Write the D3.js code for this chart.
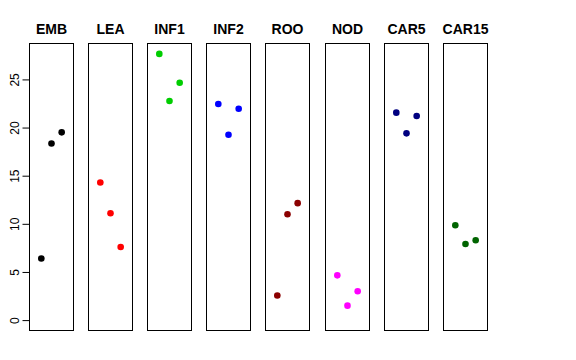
<!DOCTYPE html>
<html>
<head>
<meta charset="utf-8">
<script src="https://cdn.jsdelivr.net/npm/d3@7"></script>
<style>
body { margin: 0; background: #fff; }
text { font-family: "Liberation Sans", Arial, sans-serif; }
</style>
</head>
<body>
<svg id="chart"></svg>
<script>
// groups and their three values (x = 1, 2, 3)
var groups = ["EMB", "LEA", "INF1", "INF2", "ROO", "NOD", "CAR5", "CAR15"];
var colors = ["#000000", "#FF0000", "#00CD00", "#0000FF", "#8B0000", "#FF00FF", "#000080", "#006400"];
var embVals = [6.4, 18.35, 19.5];
var leaVals = [14.3, 11.1, 7.6];
var inf1Vals = [27.65, 22.75, 24.65];
var inf2Vals = [22.45, 19.25, 21.95];
var rooVals = [2.55, 11.0, 12.15];
var nodVals = [4.65, 1.5, 3.0];
var car5Vals = [21.55, 19.4, 21.2];
var car15Vals = [9.85, 7.9, 8.3];
var yTicks = [0, 5, 10, 15, 20, 25];

var allVals = [embVals, leaVals, inf1Vals, inf2Vals, rooVals, nodVals, car5Vals, car15Vals];

var screen = {width: 576, height: 360};
var panel = {left: 29, width: 44, step: 59.2, top: 43.5, bottom: 330.5};

var svg = d3.select("#chart")
    .attr("width", screen.width)
    .attr("height", screen.height);

var yScale = d3.scaleLinear()
    .domain([-1.08, 28.73])
    .range([panel.bottom, panel.top]);

var xScale = d3.scaleLinear()
    .domain([-0.16, 4.16])
    .range([0.5, panel.width + 0.5]);

// y axis on the left of first panel
var yAxis = d3.axisLeft(yScale)
    .tickValues(yTicks)
    .tickSize(7);

var axisG = svg.append("g")
    .attr("transform", "translate(" + (panel.left + 0.5) + ",0)")
    .call(yAxis);
axisG.select(".domain")
    .attr("d", "M0," + yScale(0) + "V" + yScale(25))
    .attr("stroke", "#000");
axisG.selectAll(".tick line").attr("stroke", "#000");
axisG.selectAll(".tick text")
    .attr("font-size", "12px")
    .attr("fill", "#000")
    .attr("font-family", "Liberation Sans, Arial, sans-serif")
    .attr("text-anchor", "middle")
    .attr("dy", null)
    .attr("x", null)
    .attr("transform", "translate(-15,0) rotate(-90)")
    .attr("dominant-baseline", "central");

groups.forEach(function(name, i) {
    var g = svg.append("g")
        .attr("transform", "translate(" + Math.floor(panel.left + i * panel.step) + ",0)");

    g.append("rect")
        .attr("x", 0.5)
        .attr("y", panel.top)
        .attr("width", panel.width)
        .attr("height", panel.bottom - panel.top)
        .attr("fill", "none")
        .attr("stroke", "#000")
        .attr("stroke-width", 1);

    g.append("text")
        .text(name)
        .attr("x", panel.width / 2 + 0.5)
        .attr("y", 34)
        .attr("text-anchor", "middle")
        .attr("font-weight", "bold")
        .attr("font-size", "14px");

    g.selectAll("circle")
        .data(allVals[i])
        .enter()
        .append("circle")
        .attr("cx", function(d, j) { return xScale(j + 1); })
        .attr("cy", function(d) { return yScale(d); })
        .attr("r", 3.3)
        .attr("fill", colors[i]);
});
</script>
</body>
</html>
